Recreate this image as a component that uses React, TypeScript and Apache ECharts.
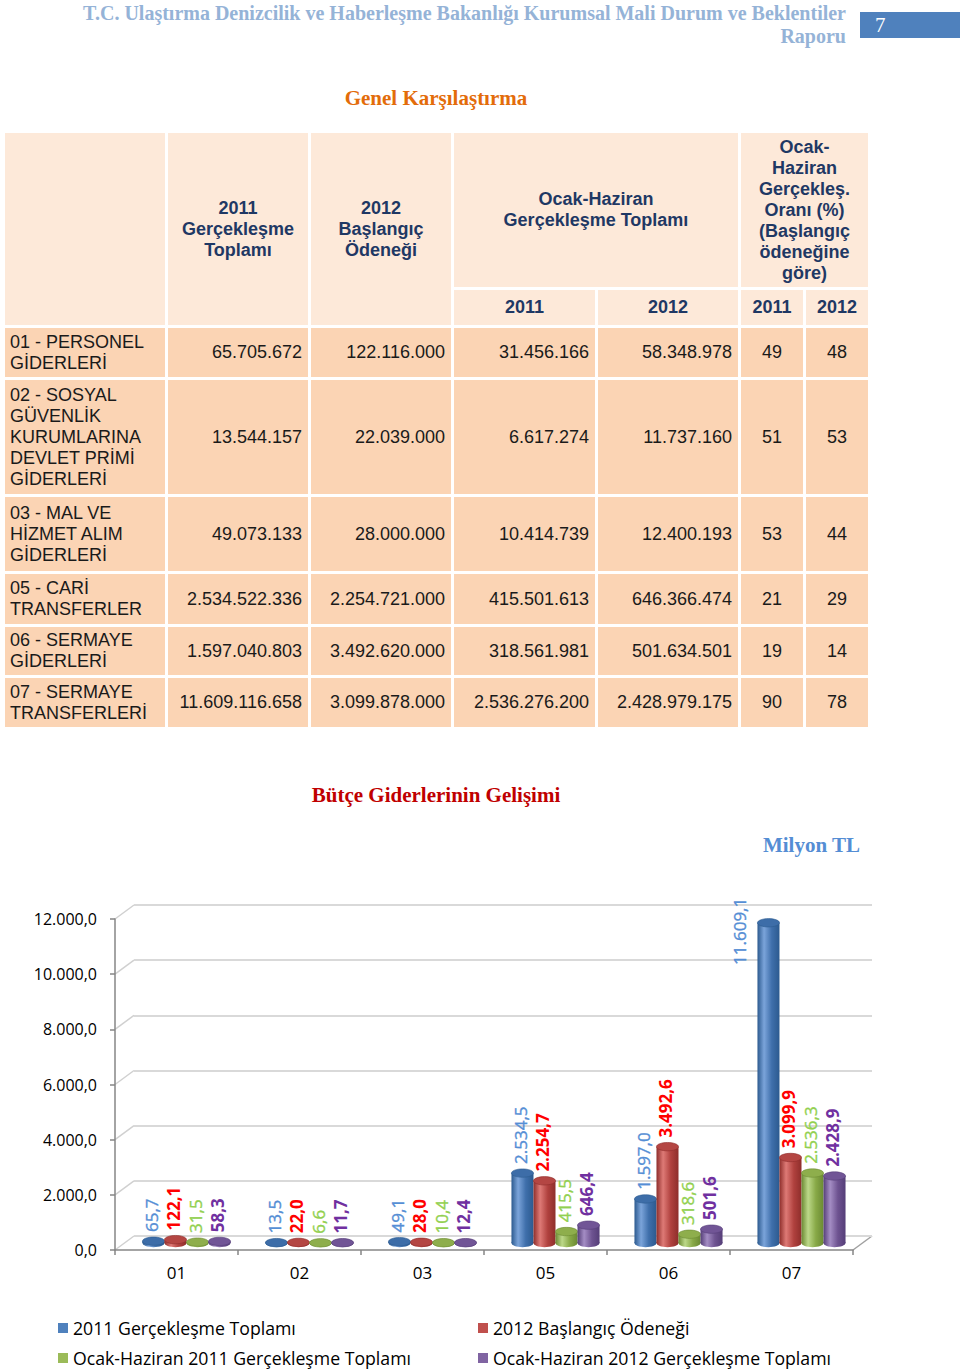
import React, { useEffect, useRef } from "react";
import * as echarts from "echarts";

// ---------- DATA ----------
const rowLabels = [
  "01 - PERSONEL\nGİDERLERİ",
  "02 - SOSYAL\nGÜVENLİK\nKURUMLARINA\nDEVLET PRİMİ\nGİDERLERİ",
  "03 - MAL VE\nHİZMET ALIM\nGİDERLERİ",
  "05 - CARİ\nTRANSFERLER",
  "06 - SERMAYE\nGİDERLERİ",
  "07 - SERMAYE\nTRANSFERLERİ",
];
const gerceklesme2011 = [65705672, 13544157, 49073133, 2534522336, 1597040803, 11609116658];
const baslangic2012 = [122116000, 22039000, 28000000, 2254721000, 3492620000, 3099878000];
const ocakHaziran2011 = [31456166, 6617274, 10414739, 415501613, 318561981, 2536276200];
const ocakHaziran2012 = [58348978, 11737160, 12400193, 646366474, 501634501, 2428979175];
const oran2011 = [49, 51, 53, 21, 19, 90];
const oran2012 = [48, 53, 44, 29, 14, 78];

const categories = ["01", "02", "03", "05", "06", "07"];
const seriesNames = [
  "2011 Gerçekleşme Toplamı",
  "2012 Başlangıç Ödeneği",
  "Ocak-Haziran 2011 Gerçekleşme Toplamı",
  "Ocak-Haziran 2012 Gerçekleşme Toplamı",
];
// Milyon TL
const chart2011 = [65.7, 13.5, 49.1, 2534.5, 1597.0, 11609.1];
const chart2012 = [122.1, 22.0, 28.0, 2254.7, 3492.6, 3099.9];
const chartOH2011 = [31.5, 6.6, 10.4, 415.5, 318.6, 2536.3];
const chartOH2012 = [58.3, 11.7, 12.4, 646.4, 501.6, 2428.9];
const yTicks = [0, 2000, 4000, 6000, 8000, 10000, 12000];

// ---------- STYLE / LAYOUT ----------
const palettes = [
  { base: "#4F81BD", dark: "#2C5A8F", light: "#7BA4DA", mid: "#3F6FAB", top: "#3D6DA8", label: "#558ED5", bold: false },
  { base: "#C0504D", dark: "#8E2E2B", light: "#DE7A76", mid: "#B0413E", top: "#B44643", label: "#FF0000", bold: true },
  { base: "#9BBB59", dark: "#6B8A33", light: "#BCD889", mid: "#88A947", top: "#8EAE4C", label: "#92D050", bold: false },
  { base: "#8064A2", dark: "#553E78", light: "#A48DC4", mid: "#6E5391", top: "#715596", label: "#7030A0", bold: true },
];
const CHART_TOP = 760;
const SANS = "'Liberation Sans', Arial, sans-serif";
const SERIF = "'Liberation Serif', 'Times New Roman', serif";
const CHART_FONT = "'Open Sans', 'Noto Sans', sans-serif";

const colL = [5, 168, 311, 454, 598, 741, 806];
const colR = [165, 308, 451, 595, 738, 803, 868];
const rowT = [328, 380, 497, 574, 627, 678];
const rowB = [377, 494, 571, 624, 675, 727];
const HEADER_BG = "#FDE9D9";
const DATA_BG = "#FBD4B4";
const NAVY = "#1F3864";

const fmtInt = (n: number) => String(n).replace(/\B(?=(\d{3})+(?!\d))/g, ".");
const fmtTR = (v: number) => {
  const [i, d] = v.toFixed(1).split(".");
  return i.replace(/\B(?=(\d{3})+(?!\d))/g, ".") + "," + d;
};

type CellProps = {
  x1: number; x2: number; y1: number; y2: number; bg: string;
  text: string; align?: "left" | "right" | "center"; bold?: boolean;
};
const Cell = ({ x1, x2, y1, y2, bg, text, align = "center", bold = false }: CellProps) => (
  <div
    style={{
      position: "absolute", left: x1, top: y1, width: x2 - x1, height: y2 - y1,
      background: bg, display: "flex", alignItems: "center",
      justifyContent: align === "left" ? "flex-start" : align === "right" ? "flex-end" : "center",
      boxSizing: "border-box", padding: align === "left" ? "0 0 0 5px" : align === "right" ? "0 6px 0 0" : 0,
      fontFamily: SANS, fontSize: 18, lineHeight: "21px", whiteSpace: "pre-line",
      textAlign: align, color: bold ? NAVY : "#1a1a1a", fontWeight: bold ? 700 : 400,
    }}
  >
    {text}
  </div>
);

function Chart() {
  const ref = useRef<HTMLDivElement>(null);
  useEffect(() => {
    if (!ref.current) return;
    const chart = echarts.init(ref.current, null, { renderer: "svg" });
    const values = [chart2011, chart2012, chartOH2011, chartOH2012];
    const g0 = { left: 115, top: 159, width: 738, height: 331 };
    const g1 = { left: 134, top: 145, width: 738, height: 331 };
    const g2 = { left: 125, top: 152, width: 738, height: 331 };

    const makeRender = (k: number) => (params: any, api: any) => {
      const p = palettes[k];
      const ci = api.value(0);
      const v = api.value(1);
      const base = api.coord([ci, 0]);
      const top = api.coord([ci, v]);
      const ceil = api.coord([ci, 12000])[1];
      const band = api.size([1, 0])[0];
      const bw = band * 0.179;
      const cx = base[0] + (k - 1.5) * bw;
      const x0 = cx - bw / 2;
      const ry = bw * 0.19;
      const text = fmtTR(v);
      const estLen = text.length * 8.6;
      let lx = cx - 2;
      let ly = top[1] - ry - 5;
      let align = "left";
      if (ly - estLen < ceil) {
        lx = x0 - 18;
        ly = top[1] - 25;
        align = "right";
      }
      const grad = new echarts.graphic.LinearGradient(0, 0, 1, 0, [
        { offset: 0, color: p.dark },
        { offset: 0.3, color: p.light },
        { offset: 0.65, color: p.mid },
        { offset: 1, color: p.dark },
      ]);
      return {
        type: "group",
        children: [
          { type: "ellipse", shape: { cx, cy: base[1], rx: bw / 2, ry }, style: { fill: grad } },
          { type: "rect", shape: { x: x0, y: top[1], width: bw, height: base[1] - top[1] }, style: { fill: grad } },
          { type: "ellipse", shape: { cx, cy: top[1], rx: bw / 2, ry }, style: { fill: p.top, stroke: p.dark, lineWidth: 0.6 } },
          {
            type: "text", x: lx, y: ly, rotation: Math.PI / 2, z2: 10,
            style: {
              text, fill: p.label, fontSize: 17, fontFamily: CHART_FONT,
              fontWeight: p.bold ? "bold" : "normal", align, verticalAlign: "middle",
              stroke: p.bold ? undefined : p.label, lineWidth: p.bold ? 0 : 0.35,
            },
          },
        ],
      };
    };

    const legendPos = [
      { left: 58, top: 559 }, { left: 478, top: 559 },
      { left: 58, top: 589 }, { left: 478, top: 589 },
    ];

    const titles = [
      {
        type: "text", x: 436, y: 35,
        style: { text: "Bütçe Giderlerinin Gelişimi", fill: "#C00000", font: `bold 21px ${SERIF}`, align: "center", verticalAlign: "middle" },
      },
      {
        type: "text", x: 860, y: 85,
        style: { text: "Milyon TL", fill: "#548DD4", font: `bold 21px ${SERIF}`, align: "right", verticalAlign: "middle" },
      },
    ];

    chart.setOption({
      animation: false,
      textStyle: { fontFamily: CHART_FONT },
      grid: [
        { ...g0, containLabel: false },
        { ...g1, containLabel: false },
        { ...g2, containLabel: false },
      ],
      xAxis: [
        {
          type: "category", gridIndex: 0, data: categories, boundaryGap: true,
          axisLine: { lineStyle: { color: "#868686", width: 1.5 } },
          axisTick: { show: true, length: 5, lineStyle: { color: "#868686", width: 1.5 } },
          axisLabel: { margin: 14, fontSize: 17, color: "#000", fontFamily: CHART_FONT },
        },
        { type: "category", gridIndex: 1, data: categories, show: false },
        { type: "category", gridIndex: 2, data: categories, show: false },
      ],
      yAxis: [
        {
          type: "value", gridIndex: 0, min: 0, max: 12000, interval: 2000,
          axisLine: { show: true, lineStyle: { color: "#868686", width: 1.5 } },
          axisTick: { show: true, length: 5, lineStyle: { color: "#868686", width: 1.5 } },
          axisLabel: { margin: 18, fontSize: 16, color: "#000", fontFamily: CHART_FONT, formatter: (v: number) => fmtTR(v) },
          splitLine: { show: false },
        },
        {
          type: "value", gridIndex: 1, min: 0, max: 12000, interval: 2000,
          axisLine: { show: false }, axisTick: { show: false }, axisLabel: { show: false },
          splitLine: { show: true, lineStyle: { color: "#D9D9D9", width: 2 } },
        },
        { type: "value", gridIndex: 2, min: 0, max: 12000, interval: 2000, show: false, splitLine: { show: false } },
      ],
      legend: seriesNames.map((n, i) => ({
        data: [n], ...legendPos[i], padding: 0, icon: "rect", itemWidth: 10, itemHeight: 10,
        selectedMode: false, textStyle: { fontSize: 17.7, color: "#000", fontFamily: CHART_FONT },
      })),
      graphic: titles,
      series: seriesNames.map((n, k) => ({
        type: "custom", name: n, xAxisIndex: 2, yAxisIndex: 2,
        itemStyle: { color: palettes[k].base },
        renderItem: makeRender(k), clip: false,
        encode: { x: 0, y: 1 },
        data: values[k].map((v, i) => [i, v]),
      })),
    });

    // 3D side wall / floor connectors computed from the axes
    const lines: any[] = yTicks.map((t) => {
      const yf = chart.convertToPixel({ yAxisIndex: 0 }, t) as number;
      const yb = chart.convertToPixel({ yAxisIndex: 1 }, t) as number;
      return { type: "line", shape: { x1: g0.left, y1: yf, x2: g1.left, y2: yb }, style: { stroke: "#D0D0D0", lineWidth: 1.5 }, silent: true };
    });
    const yf0 = chart.convertToPixel({ yAxisIndex: 0 }, 0) as number;
    const yb0 = chart.convertToPixel({ yAxisIndex: 1 }, 0) as number;
    lines.push({
      type: "line",
      shape: { x1: g0.left + g0.width, y1: yf0, x2: g1.left + g1.width, y2: yb0 },
      style: { stroke: "#A0A0A0", lineWidth: 1.5 }, silent: true,
    });
    chart.setOption({ graphic: [...titles, ...lines] });
    return () => chart.dispose();
  }, []);
  return <div ref={ref} style={{ position: "absolute", left: 0, top: CHART_TOP, width: 960, height: 1372 - CHART_TOP }} />;
}

export default function App() {
  const cells: React.ReactNode[] = [];
  // header
  cells.push(<Cell key="h0" x1={colL[0]} x2={colR[0]} y1={133} y2={325} bg={HEADER_BG} text="" />);
  cells.push(<Cell key="h1" x1={colL[1]} x2={colR[1]} y1={133} y2={325} bg={HEADER_BG} text={"2011\nGerçekleşme\nToplamı"} bold />);
  cells.push(<Cell key="h2" x1={colL[2]} x2={colR[2]} y1={133} y2={325} bg={HEADER_BG} text={"2012\nBaşlangıç\nÖdeneği"} bold />);
  cells.push(<Cell key="h3" x1={colL[3]} x2={colR[4]} y1={133} y2={287} bg={HEADER_BG} text={"Ocak-Haziran\nGerçekleşme Toplamı"} bold />);
  cells.push(<Cell key="h4" x1={colL[5]} x2={colR[6]} y1={133} y2={287} bg={HEADER_BG} text={"Ocak-\nHaziran\nGerçekleş.\nOranı (%)\n(Başlangıç\nödeneğine\ngöre)"} bold />);
  ["2011", "2012", "2011", "2012"].forEach((t, i) => {
    cells.push(<Cell key={"y" + i} x1={colL[3 + i]} x2={colR[3 + i]} y1={290} y2={325} bg={HEADER_BG} text={t} bold />);
  });
  rowLabels.forEach((lab, r) => {
    const y1 = rowT[r], y2 = rowB[r];
    cells.push(<Cell key={"l" + r} x1={colL[0]} x2={colR[0]} y1={y1} y2={y2} bg={DATA_BG} text={lab} align="left" />);
    const nums = [gerceklesme2011[r], baslangic2012[r], ocakHaziran2011[r], ocakHaziran2012[r]];
    nums.forEach((n, c) => {
      cells.push(<Cell key={`n${r}-${c}`} x1={colL[1 + c]} x2={colR[1 + c]} y1={y1} y2={y2} bg={DATA_BG} text={fmtInt(n)} align="right" />);
    });
    cells.push(<Cell key={`o${r}a`} x1={colL[5]} x2={colR[5]} y1={y1} y2={y2} bg={DATA_BG} text={String(oran2011[r])} />);
    cells.push(<Cell key={`o${r}b`} x1={colL[6]} x2={colR[6]} y1={y1} y2={y2} bg={DATA_BG} text={String(oran2012[r])} />);
  });

  return (
    <div style={{ position: "absolute", left: 0, top: 0, width: 960, height: 1372, overflow: "hidden", background: "#fff" }}>
      <div
        style={{
          position: "absolute", right: 114, top: 2, textAlign: "right", whiteSpace: "pre",
          fontFamily: SERIF, fontWeight: 700, fontSize: 20, lineHeight: "23px", color: "#95B3D7",
        }}
      >
        {"T.C. Ulaştırma Denizcilik ve Haberleşme Bakanlığı Kurumsal Mali Durum ve Beklentiler\nRaporu"}
      </div>
      <div style={{ position: "absolute", left: 860, top: 12, width: 100, height: 26, background: "#4F81BD" }}>
        <span style={{ position: "absolute", left: 15, top: 0, lineHeight: "26px", fontFamily: SERIF, fontSize: 21, color: "#fff" }}>7</span>
      </div>
      <div
        style={{
          position: "absolute", left: 236, width: 400, top: 86, textAlign: "center",
          fontFamily: SERIF, fontWeight: 700, fontSize: 21, lineHeight: "24px", color: "#E36C0A",
        }}
      >
        Genel Karşılaştırma
      </div>
      {cells}
      <Chart />
    </div>
  );
}
